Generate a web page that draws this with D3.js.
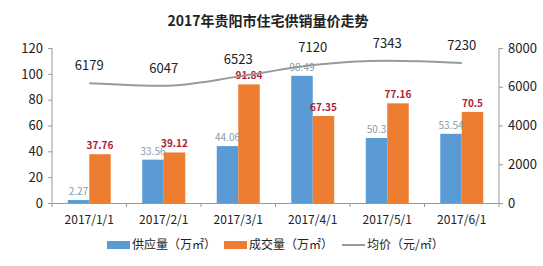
<!DOCTYPE html>
<html lang="zh">
<head>
<meta charset="UTF-8"/>
<title>2017年贵阳市住宅供销量价走势</title>
<script src="https://d3js.org/d3.v7.min.js"></script>
<style>
  body { margin:0; background:#fff; }
  text { font-family: "Noto Sans CJK SC", "DejaVu Sans", sans-serif; }
</style>
</head>
<body>
<script>
var w = 543, h = 266;

var months = ["2017/1/1","2017/2/1","2017/3/1","2017/4/1","2017/5/1","2017/6/1"];
var supply = [2.27, 33.56, 44.06, 98.49, 50.3, 53.54];
var sales  = [37.76, 39.12, 91.84, 67.35, 77.16, 70.5];
var price  = [6179, 6047, 6523, 7120, 7343, 7230];
var leftTicks  = [0,20,40,60,80,100,120];
var rightTicks = [0,2000,4000,6000,8000];

// plot area (note: "top" is taken by window.top)
var pLeft = 52, pRight = 499, pTop = 48, pBottom = 203;

var svg = d3.select("body").append("svg")
  .attr("width", w).attr("height", h);

// title
svg.append("text")
  .attr("x", 268).attr("y", 26)
  .attr("text-anchor","middle")
  .attr("font-size", 14).attr("font-weight","bold")
  .attr("fill","#222")
  .text("2017年贵阳市住宅供销量价走势");

var x = d3.scaleBand().domain(months).range([pLeft, pRight]);
var xs = d3.scaleBand().domain(["s","t"]).range([0, 43]);
var yL = d3.scaleLinear().domain([0,120]).range([pBottom, pTop]);
var yR = d3.scaleLinear().domain([0,8000]).range([pBottom, pTop]);

function gx(m){ return x(m) + x.bandwidth()/2 - 21.5; }

// bars
svg.selectAll(".sup").data(supply).enter().append("rect")
  .attr("x", function(d,i){ return gx(months[i]) + xs("s"); })
  .attr("y", function(d){ return yL(d); })
  .attr("width", xs.bandwidth())
  .attr("height", function(d){ return pBottom - yL(d); })
  .attr("fill","#5b9bd5");

svg.selectAll(".sal").data(sales).enter().append("rect")
  .attr("x", function(d,i){ return gx(months[i]) + xs("t"); })
  .attr("y", function(d){ return yL(d); })
  .attr("width", xs.bandwidth())
  .attr("height", function(d){ return pBottom - yL(d); })
  .attr("fill","#ed7d31");

// bar labels
svg.selectAll(".supl").data(supply).enter().append("text")
  .attr("x", function(d,i){ return gx(months[i]) + xs("s") + xs.bandwidth()/2; })
  .attr("y", function(d){ return yL(d) - 5; })
  .attr("text-anchor","middle")
  .attr("font-size", 10).attr("fill","#8a9aae")
  .text(function(d){ return d; });

svg.selectAll(".sall").data(sales).enter().append("text")
  .attr("x", function(d,i){ return gx(months[i]) + xs("t") + xs.bandwidth()/2; })
  .attr("y", function(d){ return yL(d) - 5; })
  .attr("text-anchor","middle")
  .attr("font-size", 10).attr("font-weight","bold").attr("fill","#b0203a")
  .text(function(d){ return d; });

// price line
var line = d3.line()
  .x(function(d,i){ return x(months[i]) + x.bandwidth()/2; })
  .y(function(d){ return yR(d); })
  .curve(d3.curveMonotoneX);

svg.append("path").datum(price)
  .attr("d", line)
  .attr("fill","none").attr("stroke","#999").attr("stroke-width",2);

svg.selectAll(".pl").data(price).enter().append("text")
  .attr("x", function(d,i){ return x(months[i]) + x.bandwidth()/2; })
  .attr("y", function(d){ return yR(d) - 13; })
  .attr("text-anchor","middle")
  .attr("font-size", 13).attr("fill","#222")
  .text(function(d){ return d; });

// axes
var axL = svg.append("g").attr("transform","translate("+pLeft+",0)")
  .call(d3.axisLeft(yL).tickValues(leftTicks).tickSize(4).tickPadding(5));
var axR = svg.append("g").attr("transform","translate("+pRight+",0)")
  .call(d3.axisRight(yR).tickValues(rightTicks).tickFormat(d3.format("d")).tickSize(4).tickPadding(5));
var axB = svg.append("g").attr("transform","translate(0,"+pBottom+")")
  .call(d3.axisBottom(x).tickSize(0).tickPadding(12));

// band boundary ticks
svg.selectAll(".bt").data(months.concat(["end"])).enter().append("line")
  .attr("x1", function(d,i){ return pLeft + i*x.bandwidth(); })
  .attr("x2", function(d,i){ return pLeft + i*x.bandwidth(); })
  .attr("y1", pBottom).attr("y2", pBottom + 4)
  .attr("stroke","#999");

[axL, axR, axB].forEach(function(a){
  a.selectAll("path").attr("stroke","#999");
  a.selectAll("line").attr("stroke","#999");
  a.selectAll("text").attr("font-size",13).attr("fill","#222")
    .attr("font-family",'"Noto Sans CJK SC", "DejaVu Sans", sans-serif');
});
axB.selectAll("text").attr("font-size",12);
axL.select(".domain").attr("d","M0,"+pTop+"V"+pBottom);
axR.select(".domain").attr("d","M0,"+pTop+"V"+pBottom);

// legend
var legend = [
  {name:"供应量（万㎡）", color:"#5b9bd5", type:"rect", x:107},
  {name:"成交量（万㎡）", color:"#ed7d31", type:"rect", x:224},
  {name:"均价（元/㎡）", color:"#999", type:"line", x:342}
];
var lg = svg.selectAll(".lg").data(legend).enter().append("g")
  .attr("transform", function(d){ return "translate("+d.x+",245)"; });
lg.filter(function(d){ return d.type=="rect"; }).append("rect")
  .attr("x",0).attr("y",-4).attr("width",23).attr("height",8)
  .attr("fill", function(d){ return d.color; });
lg.filter(function(d){ return d.type=="line"; }).append("line")
  .attr("x1",0).attr("x2",23).attr("y1",0).attr("y2",0)
  .attr("stroke", function(d){ return d.color; }).attr("stroke-width",2);
lg.append("text")
  .attr("x",25).attr("y",4)
  .attr("font-size",12).attr("fill","#222")
  .text(function(d){ return d.name; });
</script>
</body>
</html>
